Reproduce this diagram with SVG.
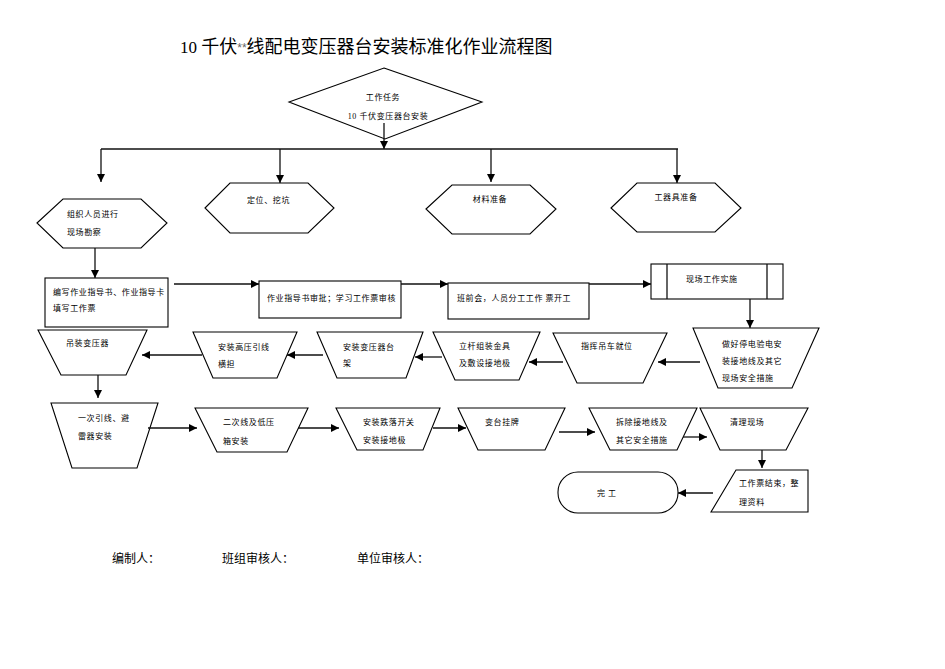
<svg xmlns="http://www.w3.org/2000/svg" width="945" height="669" viewBox="0 0 945 669">
<defs>
<marker id="ah" viewBox="0 0 10 10" refX="10" refY="5" markerWidth="8" markerHeight="8" orient="auto" markerUnits="userSpaceOnUse"><path d="M0,0 L10,5 L0,10 z" fill="#000"/></marker>
</defs>
<style>
.s{fill:#fff;stroke:#000;stroke-width:1.1}
.c{fill:none;stroke:#111;stroke-width:1.3}
.a{marker-end:url(#ah)}
.t{font-family:"Noto Sans CJK SC","Liberation Sans",sans-serif;font-size:8px;fill:#000;letter-spacing:0.6px}
.m{text-anchor:middle}
.ti{font-family:"Noto Sans CJK SC","Liberation Sans",sans-serif;font-size:18px;fill:#000}
.f{font-family:"Noto Sans CJK SC","Liberation Sans",sans-serif;font-size:12px;fill:#000}
.sf{font-family:"Liberation Serif",serif}
</style>
<rect width="945" height="669" fill="#fff"/>
<text class="ti" x="180" y="53"><tspan class="sf" font-size="17">10 </tspan>千伏<tspan font-family="Liberation Sans,sans-serif" font-size="12" fill="#666" dy="-1">**</tspan><tspan dy="1">线配电变压器台安装标准化作业流程图</tspan></text>

<g id="n-task"><polygon class="s" points="384,68 482,102 385,139 289,102"/><text class="t m" x="383" y="100">工作任务</text><text class="t m" x="388" y="119"><tspan class="sf">10 </tspan>千伏变压器台安装</text></g>

<g id="n-survey"><polygon class="s" points="37,223 63,199 141,199 167,223 141,248 63,248"/><text class="t" x="67" y="217">组织人员进行</text><text class="t" x="67" y="235">现场勘察</text></g>
<g id="n-locate"><polygon class="s" points="205,208 230,183 308,183 334,208 308,233 230,233"/><text class="t" x="247" y="203">定位、挖坑</text></g>
<g id="n-material"><polygon class="s" points="426,209 452,185 530,185 556,209 530,234 452,234"/><text class="t m" x="490" y="202">材料准备</text></g>
<g id="n-tools"><polygon class="s" points="611,208 637,183 715,183 741,208 715,232 637,232"/><text class="t m" x="676" y="200">工器具准备</text></g>

<g id="n-write"><rect class="s" x="45" y="278" width="123" height="49"/><text class="t" x="53" y="295">编写作业指导书、作业指导卡</text><text class="t" x="53" y="311">填写工作票</text></g>
<g id="n-approve"><rect class="s" x="259" y="281" width="142" height="37"/><text class="t" x="267" y="301">作业指导书审批；学习工作票审核</text></g>
<g id="n-meeting"><rect class="s" x="448" y="283" width="141" height="36"/><text class="t" x="457" y="301">班前会，人员分工工作  票开工</text></g>
<g id="n-implement"><rect class="s" x="651" y="264" width="132" height="35"/><line class="c" x1="667" y1="264" x2="667" y2="299"/><line class="c" x1="767" y1="264" x2="767" y2="299"/><text class="t" x="686" y="282">现场工作实施</text></g>

<g id="n-safety"><polygon class="s" points="693,328 819,328 792,388 718,388"/><text class="t" x="722" y="347">做好停电验电安</text><text class="t" x="722" y="364">装接地线及其它</text><text class="t" x="722" y="381">现场安全措施</text></g>
<g id="n-crane"><polygon class="s" points="553,333 667,333 643,383 577,383"/><text class="t" x="581" y="349">指挥吊车就位</text></g>
<g id="n-pole"><polygon class="s" points="433,332 540,332 519,380 455,380"/><text class="t" x="459" y="349">立杆组装金具</text><text class="t" x="459" y="366">及敷设接地极</text></g>
<g id="n-frame"><polygon class="s" points="317,332 423,332 406,378 337,378"/><text class="t" x="343" y="350">安装变压器台</text><text class="t" x="343" y="366">架</text></g>
<g id="n-hvlead"><polygon class="s" points="193,332 297,332 277,378 213,378"/><text class="t" x="218" y="350">安装高压引线</text><text class="t" x="218" y="367">横担</text></g>
<g id="n-hoist"><polygon class="s" points="38,330 147,330 126,375 61,375"/><text class="t" x="66" y="346">吊装变压器</text></g>

<g id="n-primary"><polygon class="s" points="51,403 158,403 137,468 72,468"/><text class="t" x="78" y="421">一次引线、避</text><text class="t" x="78" y="439">雷器安装</text></g>
<g id="n-secondary"><polygon class="s" points="195,408 308,408 287,452 217,452"/><text class="t" x="223" y="425">二次线及低压</text><text class="t" x="223" y="444">箱安装</text></g>
<g id="n-fuse"><polygon class="s" points="336,408 440,408 423,450 357,450"/><text class="t" x="363" y="425">安装跌落开关</text><text class="t" x="363" y="443">安装接地极</text></g>
<g id="n-sign"><polygon class="s" points="458,408 565,408 545,450 478,450"/><text class="t" x="485" y="425">变台挂牌</text></g>
<g id="n-remove"><polygon class="s" points="589,408 697,408 677,450 610,450"/><text class="t" x="616" y="425">拆除接地线及</text><text class="t" x="616" y="443">其它安全措施</text></g>
<g id="n-clean"><polygon class="s" points="700,408 808,408 786,450 720,450"/><text class="t" x="730" y="425">清理现场</text></g>

<g id="n-end-ticket"><polygon class="s" points="736,470 808,470 808,512 711,512"/><text class="t" x="739" y="486">工作票结束，整</text><text class="t" x="739" y="505">理资料</text></g>
<g id="n-finish"><rect class="s" x="558" y="472" width="120" height="41" rx="20" ry="20"/><text class="t" x="597" y="496">完  工</text></g>

<g id="connectors">
<line class="c a" x1="384" y1="123" x2="384" y2="149"/>
<polyline class="c" points="101,149 678,149"/>
<line class="c a" x1="101" y1="149" x2="101" y2="182"/>
<line class="c a" x1="280" y1="149" x2="280" y2="183"/>
<line class="c a" x1="491" y1="149" x2="491" y2="182"/>
<line class="c a" x1="677" y1="149" x2="677" y2="183"/>
<line class="c a" x1="95" y1="248" x2="95" y2="278"/>
<line class="c a" x1="174" y1="284" x2="259" y2="284"/>
<line class="c a" x1="401" y1="284" x2="448" y2="284"/>
<line class="c a" x1="589" y1="284" x2="651" y2="284"/>
<line class="c a" x1="750" y1="299" x2="750" y2="328"/>
<line class="c a" x1="700" y1="362" x2="658" y2="362"/>
<line class="c a" x1="563" y1="362" x2="529" y2="362"/>
<line class="c a" x1="442" y1="357" x2="415" y2="357"/>
<line class="c a" x1="323" y1="355" x2="287" y2="355"/>
<line class="c a" x1="202" y1="355" x2="142" y2="355"/>
<line class="c a" x1="98" y1="375" x2="98" y2="398"/>
<line class="c a" x1="148" y1="428" x2="197" y2="428"/>
<line class="c a" x1="298" y1="428" x2="339" y2="428"/>
<line class="c a" x1="433" y1="428" x2="466" y2="428"/>
<line class="c a" x1="559" y1="432" x2="595" y2="432"/>
<line class="c a" x1="683" y1="437" x2="707" y2="437"/>
<line class="c a" x1="762" y1="450" x2="762" y2="468"/>
<line class="c a" x1="713" y1="493" x2="678" y2="493"/>
</g>

<text class="f" x="112" y="563">编制人：</text>
<text class="f" x="222" y="563">班组审核人：</text>
<text class="f" x="357" y="563">单位审核人：</text>
</svg>
